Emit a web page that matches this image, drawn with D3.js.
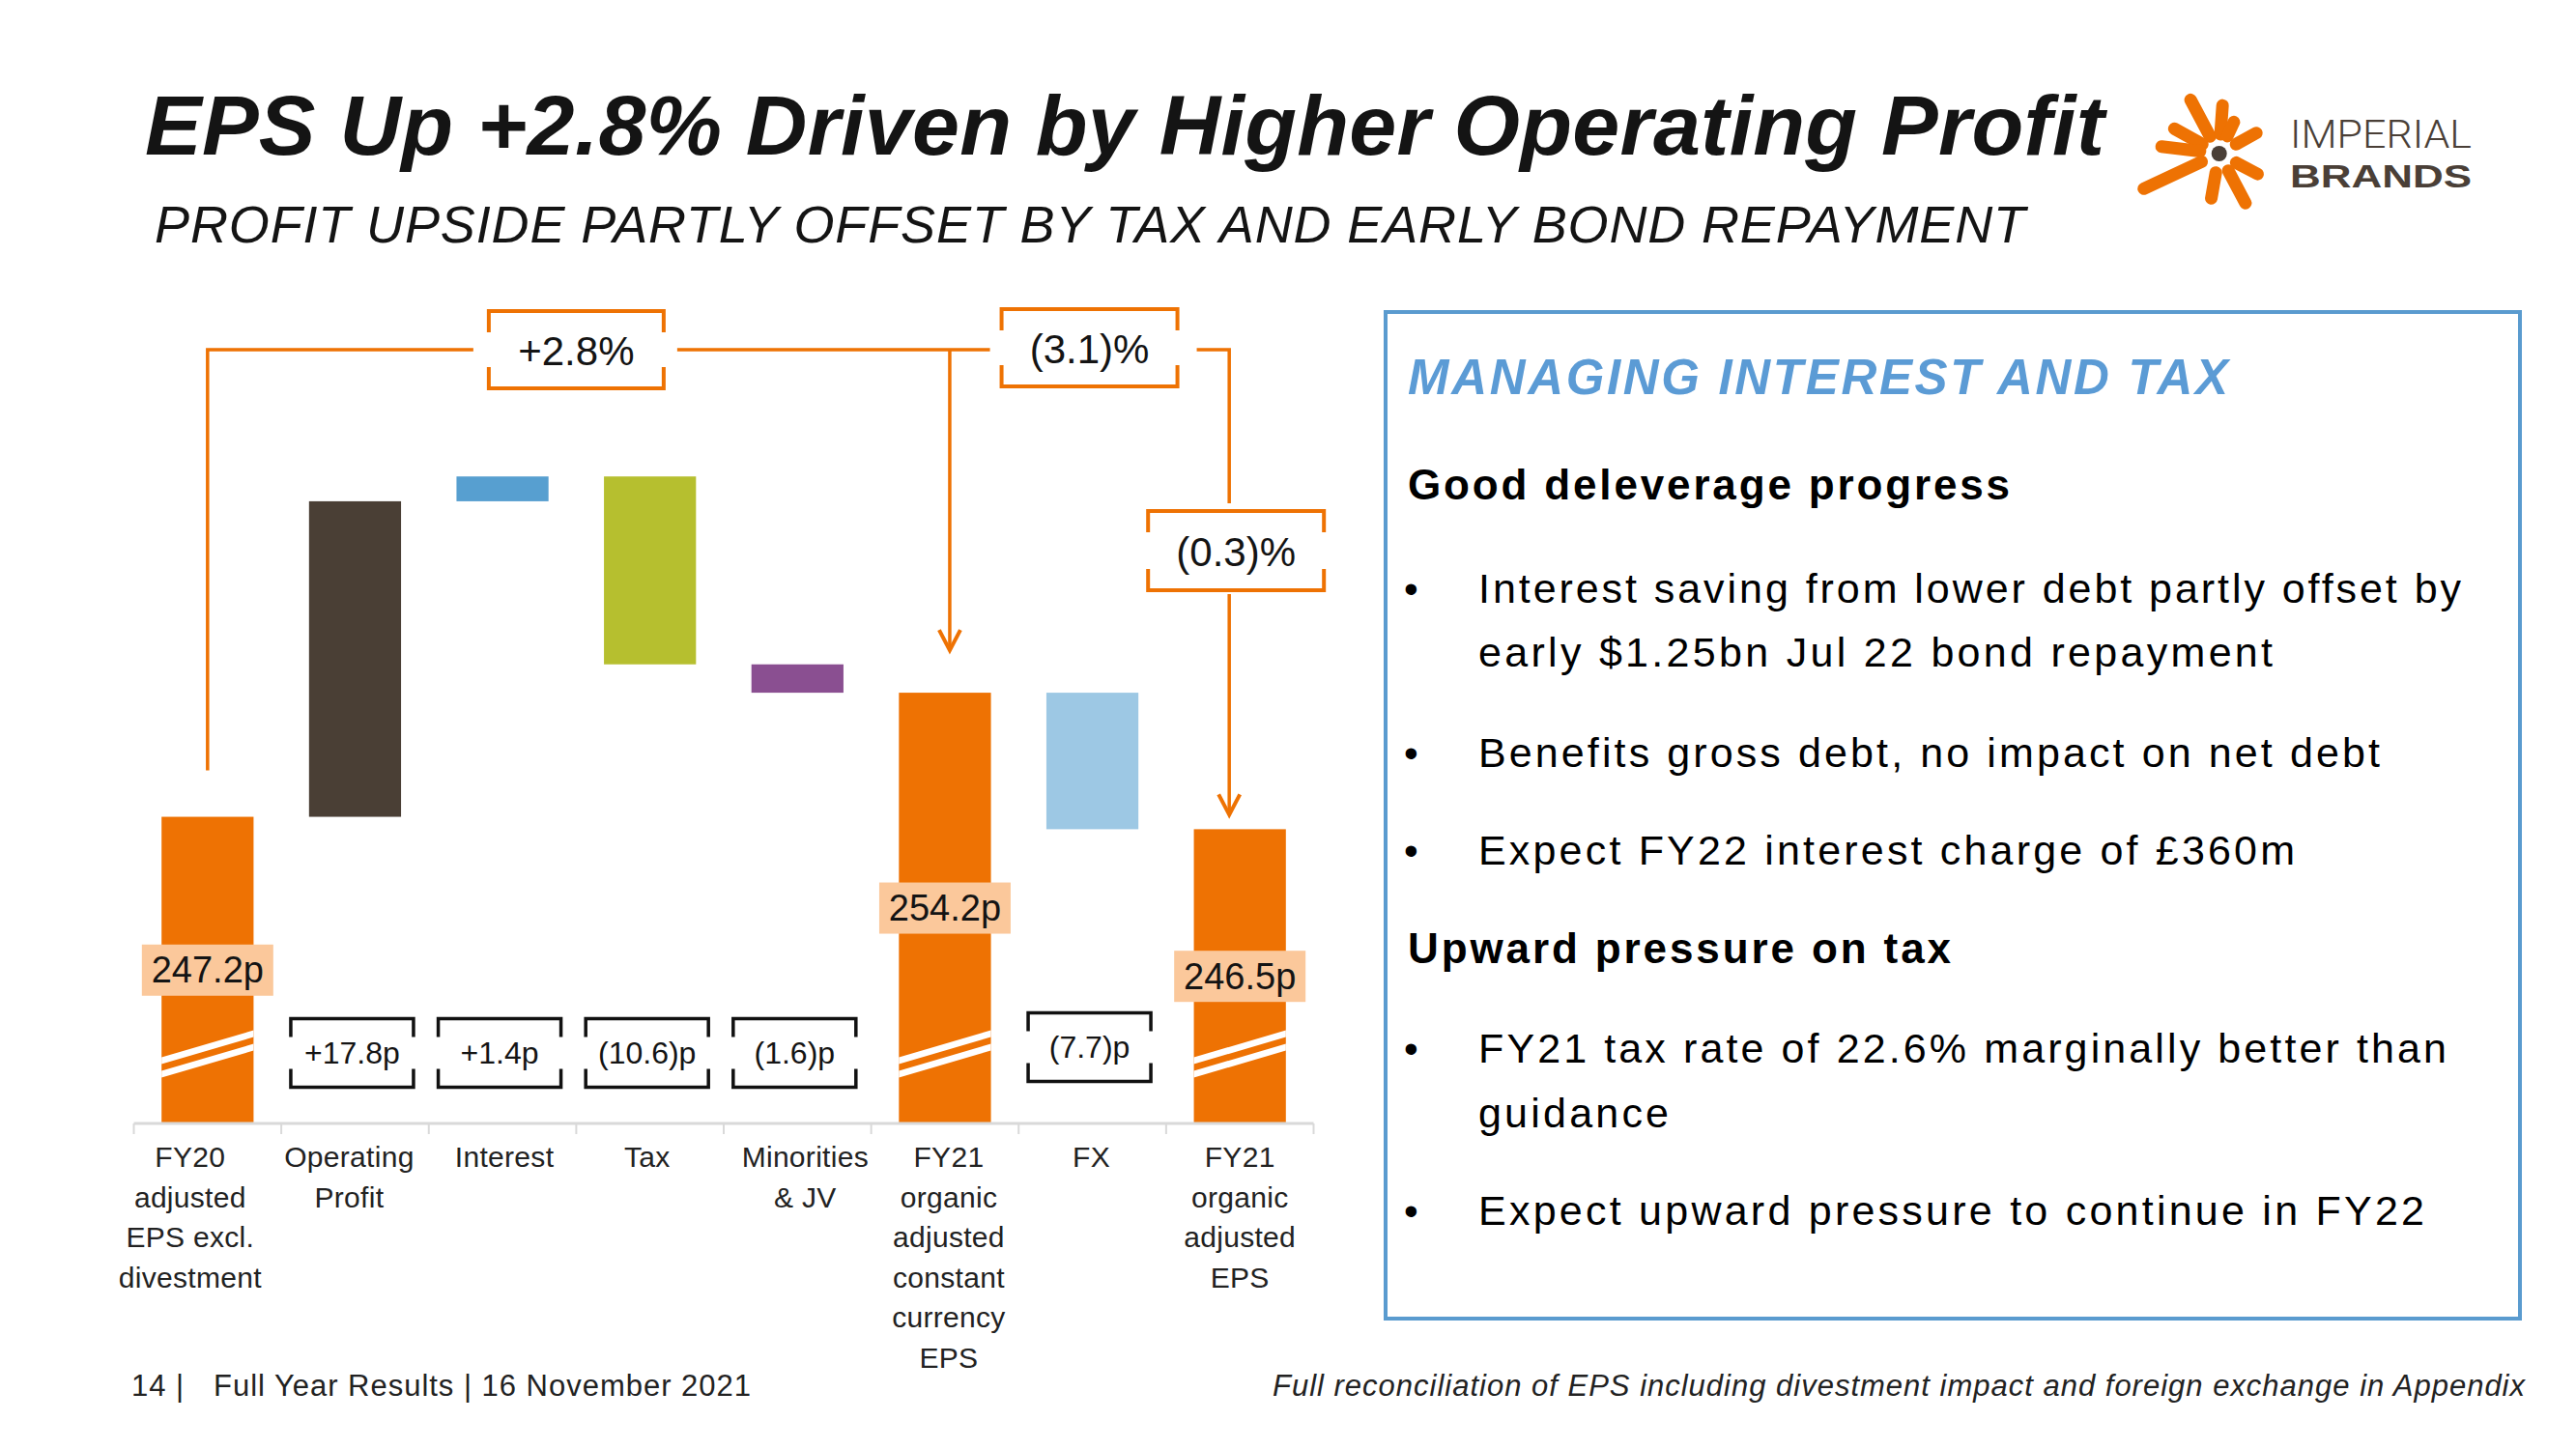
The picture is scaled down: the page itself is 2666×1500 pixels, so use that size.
<!DOCTYPE html>
<html><head><meta charset="utf-8">
<script src="https://cdn.jsdelivr.net/npm/d3@7"></script>
<style>
html,body{margin:0;padding:0;background:#fff;}
svg{display:block;font-family:"Liberation Sans",Arial,sans-serif;}
</style>
</head><body>
<svg id="c" width="2666" height="1500"></svg>
<script>
// ---------------- data ----------------
const categories = ["FY20 adjusted EPS excl. divestment","Operating Profit","Interest","Tax","Minorities & JV","FY21 organic adjusted constant currency EPS","FX","FY21 organic adjusted EPS"];
const categoryLines = [["FY20","adjusted","EPS excl.","divestment"],["Operating","Profit"],["Interest"],["Tax"],["Minorities","& JV"],["FY21","organic","adjusted","constant","currency","EPS"],["FX"],["FY21","organic","adjusted","EPS"]];
const barTypes = ["total","delta","delta","delta","delta","total","delta","total"];
const values = [247.2, 17.8, 1.4, -10.6, -1.6, 254.2, -7.7, 246.5];
const valueLabels = ["247.2p","+17.8p","+1.4p","(10.6)p","(1.6)p","254.2p","(7.7)p","246.5p"];
const barColors = ["#EE7203","#4A3F35","#579FD0","#B6BF2F","#8A4F91","#EE7203","#9DC8E4","#EE7203"];
const pctLabels = ["+2.8%","(3.1)%","(0.3)%"];
const axisFloor = 229.9;   // value at the (broken) axis baseline
const axisTop = 270;

const title = "EPS Up +2.8% Driven by Higher Operating Profit";
const subtitle = "PROFIT UPSIDE PARTLY OFFSET BY TAX AND EARLY BOND REPAYMENT";
const panelHeading = "MANAGING INTEREST AND TAX";
const panelLines = [
  {t:"Good deleverage progress", kind:"head"},
  {t:"Interest saving from lower debt partly offset by", kind:"bullet"},
  {t:"early $1.25bn Jul 22 bond repayment", kind:"cont"},
  {t:"Benefits gross debt, no impact on net debt", kind:"bullet"},
  {t:"Expect FY22 interest charge of £360m", kind:"bullet"},
  {t:"Upward pressure on tax", kind:"head"},
  {t:"FY21 tax rate of 22.6% marginally better than", kind:"bullet"},
  {t:"guidance", kind:"cont"},
  {t:"Expect upward pressure to continue in FY22", kind:"bullet"}
];
const footerLeftNum = "14 |";
const footerLeft = "Full Year Results | 16 November 2021";
const footerRight = "Full reconciliation of EPS including divestment impact and foreign exchange in Appendix";

// ---------------- layout ----------------
const ORANGE = "#EE7203";
const INK = "#141414";
const svg = d3.select("#c");

const x = d3.scaleBand().domain(categories).range([138.5, 1359.5]).paddingInner(0.376).paddingOuter(0.188);
const baseY = 1163;
const y = d3.scaleLinear().domain([axisFloor, axisTop]).range([baseY, baseY - (axisTop - axisFloor) * 18.35]);
const cx = i => x(categories[i]) + x.bandwidth() / 2;
const boundary = i => x.range()[0] + i * x.step();
const labelNudge = [-18, -6, 2, -3, 8, 4, -1, 0];

// waterfall
let run = 0;
const bars = categories.map((c, i) => {
  let s, e;
  if (barTypes[i] === "total") { s = axisFloor; e = values[i]; run = values[i]; }
  else { s = run; e = run + values[i]; run = e; }
  return {c, i, s, e, type: barTypes[i]};
});

// title / subtitle
svg.append("text").attr("x", 150).attr("y", 160).attr("font-size", 88).attr("font-weight", "bold")
  .attr("font-style", "italic").attr("fill", INK).attr("textLength", 2028).attr("lengthAdjust", "spacing").text(title);
svg.append("text").attr("x", 160).attr("y", 251).attr("font-size", 54).attr("font-style", "italic")
  .attr("fill", INK).attr("textLength", 1936).attr("lengthAdjust", "spacing").text(subtitle);

// logo
const logo = svg.append("g").attr("transform", "translate(2296.7,159)");
const arms = [[-118,63],[-151,53],[-86,50],[-173,60],[155,86],[100,47],[62,58],[28,45],[-29,44],[-65,36]];
arms.forEach(([a, r]) => {
  const rad = a * Math.PI / 180;
  logo.append("line").attr("x1", 20 * Math.cos(rad)).attr("y1", 20 * Math.sin(rad))
    .attr("x2", r * Math.cos(rad)).attr("y2", r * Math.sin(rad))
    .attr("stroke", ORANGE).attr("stroke-width", 13).attr("stroke-linecap", "round");
});
logo.append("circle").attr("r", 8).attr("fill", "#4A3F37");
svg.append("text").attr("x", 2370).attr("y", 153).attr("font-size", 40).attr("font-weight", 300)
  .attr("font-family", "Roboto, 'Liberation Sans', sans-serif").attr("fill", "#4A3F37")
  .attr("textLength", 188).attr("lengthAdjust", "spacingAndGlyphs").text("IMPERIAL");
svg.append("text").attr("x", 2370).attr("y", 194).attr("font-size", 34).attr("font-weight", "bold")
  .attr("font-family", "'Liberation Sans', Arial, sans-serif").attr("fill", "#4A3F37")
  .attr("textLength", 188).attr("lengthAdjust", "spacingAndGlyphs").text("BRANDS");

// bars
const g = svg.append("g");
g.selectAll("rect.bar").data(bars).join("rect").attr("class", "bar")
  .attr("x", d => x(d.c)).attr("width", x.bandwidth())
  .attr("y", d => y(Math.max(d.s, d.e))).attr("height", d => Math.abs(y(d.s) - y(d.e)))
  .attr("fill", d => barColors[d.i]);

// axis-break stripes on total bars
bars.filter(d => d.type === "total").forEach(d => {
  const x0 = x(d.c), x1 = x0 + x.bandwidth();
  [[1098, 1070], [1112, 1084]].forEach(([yl, yr]) => {
    g.append("polygon").attr("points", `${x0},${yl-3.5} ${x1},${yr-3.5} ${x1},${yr+3.5} ${x0},${yl+3.5}`).attr("fill", "#fff");
  });
});

// axis
const axisG = svg.append("g").attr("transform", `translate(0,${baseY})`);
axisG.append("line").attr("x1", boundary(0)).attr("x2", boundary(categories.length)).attr("stroke", "#D9D9D9").attr("stroke-width", 3);
d3.range(categories.length + 1).forEach(i => {
  axisG.append("line").attr("x1", boundary(i)).attr("x2", boundary(i)).attr("y1", 0).attr("y2", 11).attr("stroke", "#D9D9D9").attr("stroke-width", 2);
});
categoryLines.forEach((lines, i) => {
  const t = svg.append("text").attr("text-anchor", "middle").attr("font-size", 30).attr("fill", "#222").attr("letter-spacing", 0.3);
  lines.forEach((ln, k) => t.append("tspan").attr("x", cx(i) + labelNudge[i]).attr("y", 1208 + k * 41.6).text(ln));
});

// total value labels (peach boxes at bar mid-height)
bars.filter(d => d.type === "total").forEach(d => {
  const my = (y(d.e) + y(d.s)) / 2;
  svg.append("rect").attr("x", cx(d.i) - 68).attr("y", my - 26.5).attr("width", 136).attr("height", 53).attr("fill", "#FBC89B");
  svg.append("text").attr("x", cx(d.i)).attr("y", my + 13).attr("text-anchor", "middle").attr("font-size", 38).attr("fill", INK).text(valueLabels[d.i]);
});

// bracket box helper
function bracketBox(parent, cxp, cyp, w, h, leg, color, sw) {
  const l = cxp - w / 2, r = cxp + w / 2, t = cyp - h / 2, b = cyp + h / 2;
  parent.append("path").attr("d", `M${l},${t+leg}V${t}H${r}V${t+leg}M${l},${b-leg}V${b}H${r}V${b-leg}`)
    .attr("fill", "none").attr("stroke", color).attr("stroke-width", sw);
}

// delta labels (black brackets)
bars.filter(d => d.type === "delta").forEach(d => {
  const cyp = d.i === 6 ? 1084 : 1090;
  bracketBox(svg, cx(d.i) - 3, cyp, 127, 71, 19, "#111", 3.5);
  svg.append("text").attr("x", cx(d.i) - 3).attr("y", cyp + 11).attr("text-anchor", "middle").attr("font-size", 32).attr("fill", INK).text(valueLabels[d.i]);
});

// percentage connectors
const topY = 362;
const conn = svg.append("g").attr("stroke", ORANGE).attr("stroke-width", 3.5).attr("fill", "none");
const xA = cx(0), xB = cx(5) + 5, xC = cx(7) - 11;
const box1 = {x: boundary(3), y: topY, w: 181, h: 80};
const box2 = {x: cx(6) - 3, y: topY - 2, w: 182, h: 80};
const box3 = {x: xC + 7, y: 570, w: 182, h: 82};
conn.append("path").attr("d", `M${xA},${y(values[0]) - 48}V${topY}H${box1.x - box1.w/2 - 16}`);
conn.append("path").attr("d", `M${box1.x + box1.w/2 + 14},${topY}H${box2.x - box2.w/2 - 12}`);
conn.append("path").attr("d", `M${box2.x + box2.w/2 + 20},${topY}H${xC}V${box3.y - box3.h/2 - 8}`);
conn.append("path").attr("d", `M${xC},${box3.y + box3.h/2 + 4}V${y(values[7]) - 15}`);
conn.append("path").attr("d", `M${xB},${topY}V${y(values[5]) - 44}`);
// arrowheads
[[xB, y(values[5]) - 44], [xC, y(values[7]) - 15]].forEach(([ax, ay]) => {
  conn.append("path").attr("d", `M${ax-11},${ay-21}L${ax},${ay}L${ax+11},${ay-21}`).attr("stroke-width", 4);
});
[box1, box2, box3].forEach((bx, k) => {
  svg.append("rect").attr("x", bx.x - bx.w/2).attr("y", bx.y - bx.h/2).attr("width", bx.w).attr("height", bx.h).attr("fill", "#fff");
  bracketBox(svg, bx.x, bx.y, bx.w, bx.h, 22, ORANGE, 4);
  svg.append("text").attr("x", bx.x).attr("y", bx.y + 16).attr("text-anchor", "middle").attr("font-size", 42).attr("fill", INK).text(pctLabels[k]);
});

// right panel
svg.append("rect").attr("x", 1434).attr("y", 323).attr("width", 1174).attr("height", 1042)
  .attr("fill", "none").attr("stroke", "#5A9BCF").attr("stroke-width", 4);
svg.append("text").attr("x", 1457).attr("y", 408).attr("font-size", 51).attr("font-weight", "bold").attr("font-style", "italic")
  .attr("fill", "#5B9BD5").attr("textLength", 849).attr("lengthAdjust", "spacing").text(panelHeading);
const lineY = [517, 624, 690, 794, 895, 997, 1100, 1167, 1268];
const lineLen = [623, 1017, 822, 933, 845, 562, 1002, 197, 979];
panelLines.forEach((d, i) => {
  const isHead = d.kind === "head";
  svg.append("text").attr("x", isHead ? 1457 : 1530).attr("y", lineY[i])
    .attr("font-size", isHead ? 44 : 43).attr("font-weight", isHead ? "bold" : "normal")
    .attr("fill", "#000").attr("textLength", lineLen[i]).attr("lengthAdjust", "spacing").text(d.t);
  if (d.kind === "bullet") svg.append("text").attr("x", 1453).attr("y", lineY[i]).attr("font-size", 42).attr("fill", "#000").text("•");
});

// footers
svg.append("text").attr("x", 136).attr("y", 1445).attr("font-size", 31).attr("fill", "#222").attr("letter-spacing", 1).text(footerLeftNum);
svg.append("text").attr("x", 221).attr("y", 1445).attr("font-size", 31).attr("fill", "#222")
  .attr("textLength", 556).attr("lengthAdjust", "spacing").text(footerLeft);
svg.append("text").attr("x", 1317).attr("y", 1445).attr("font-size", 31).attr("font-style", "italic").attr("fill", "#222")
  .attr("textLength", 1296).attr("lengthAdjust", "spacing").text(footerRight);
</script>
</body></html>
